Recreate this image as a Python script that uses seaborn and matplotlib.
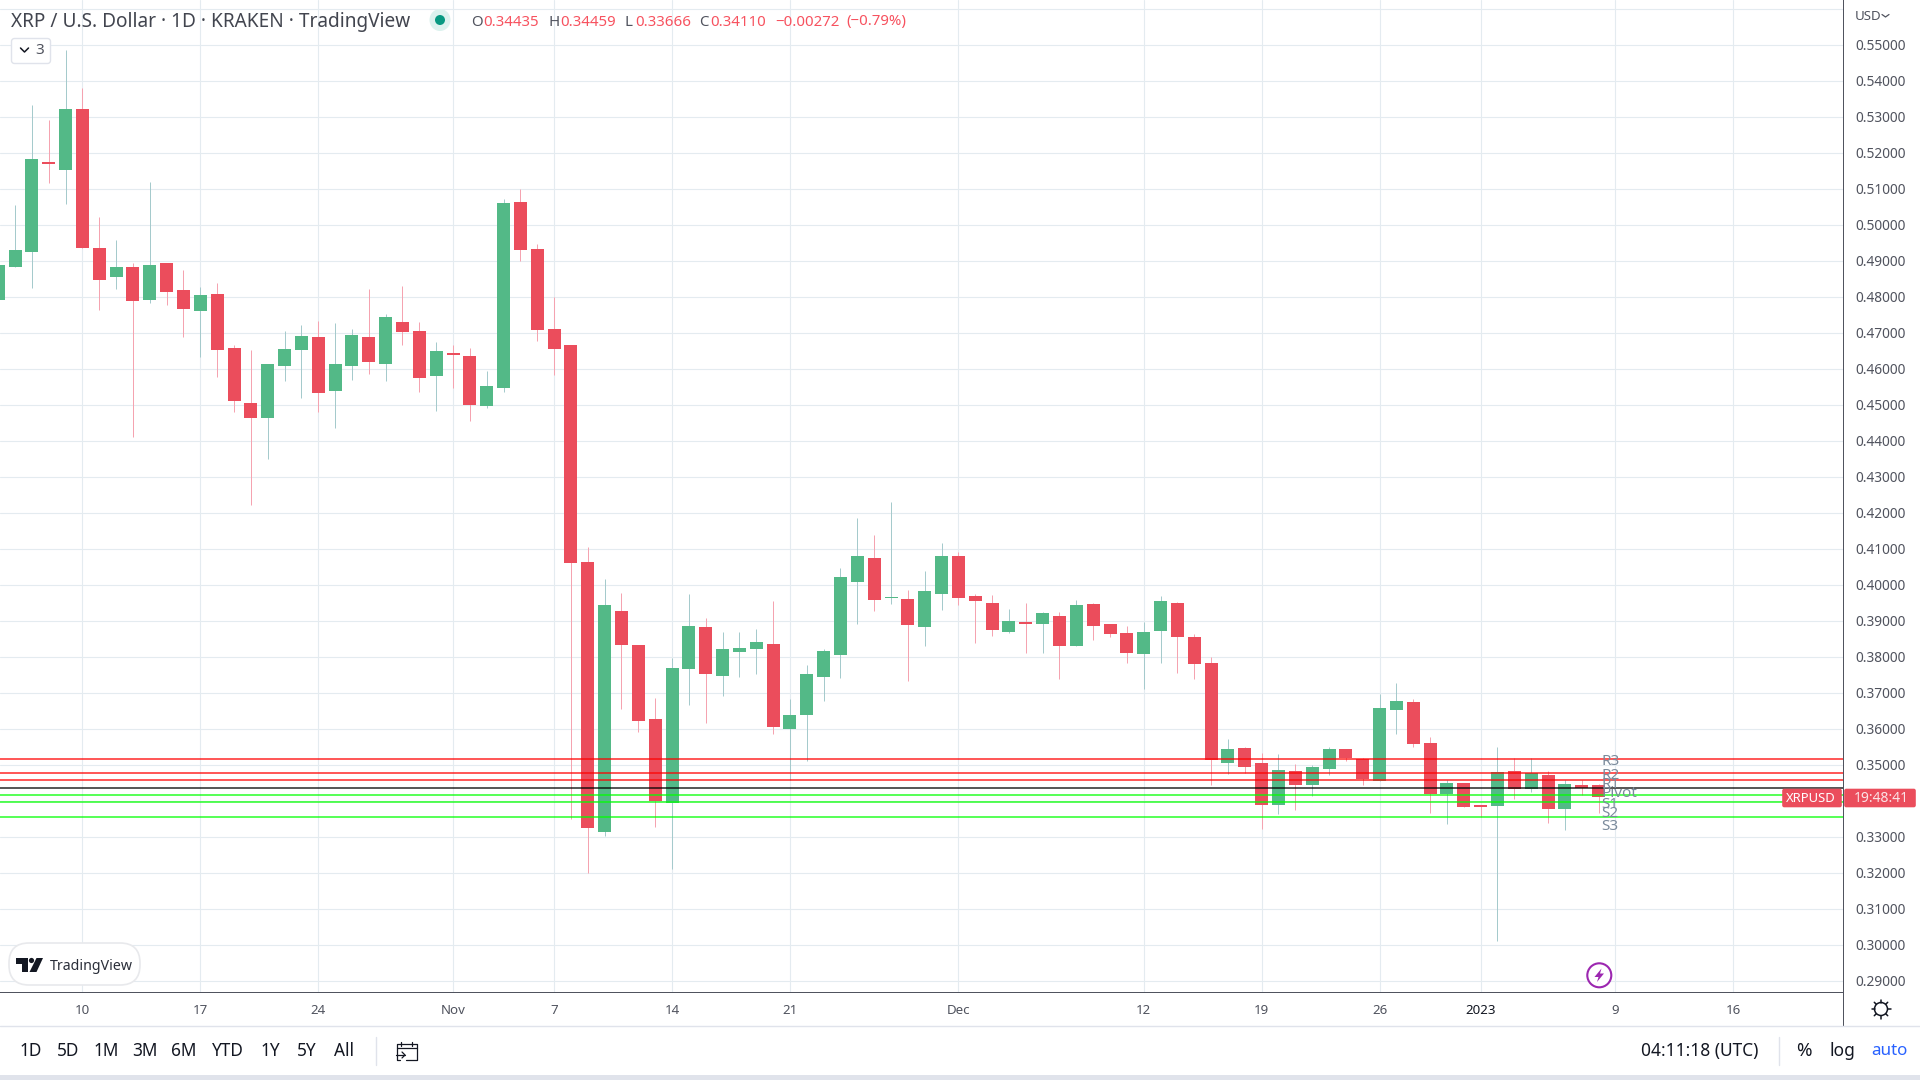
import numpy as np
import pandas as pd
import seaborn as sns
import matplotlib.pyplot as plt
from matplotlib.patches import Circle, Ellipse, FancyBboxPatch, Polygon, Rectangle

# valores, un renglon por mes (oct, nov, dic, ene)
primer_dia = "2022-10-05"
aperturas = [
    .4792, .4883, .4925, .5175, .5153, .5322, .4936, .4856, .4883, .4792, .4894, .4819, .4761, .4808, .4658, .4506, .4464, .4608, .4653, .4689, .4539, .4608, .4689, .4614, .4731, .4706, .4581,
    .4644, .4636, .4497, .4547, .5064, .4933, .4711, .4667, .4064, .3314, .3928, .3833, .3628, .3394, .3767, .3883, .3747, .3814, .3822, .3836, .3600, .3639, .3744, .3806, .4008, .4075, .3964, .3961, .3883, .3975,
    .4081, .3969, .3950, .3869, .3897, .3892, .3914, .3831, .3947, .3892, .3867, .3808, .3872, .3950, .3856, .3783, .3506, .3547, .3506, .3389, .3483, .3444, .3489, .3544, .3517, .3456, .3653, .3675, .3561, .3419, .3450,
    .3389, .3386, .3483, .3433, .3472, .3378, .3444, .34435,
]
cierres = [
    .4889, .4931, .5183, .5169, .5322, .4936, .4847, .4883, .4789, .4889, .4814, .4767, .4806, .4653, .4511, .4464, .4614, .4656, .4692, .4533, .4614, .4694, .4619, .4744, .4703, .4575, .4650,
    .4639, .4500, .4553, .5061, .4931, .4708, .4656, .4061, .3325, .3944, .3833, .3622, .3400, .3769, .3886, .3753, .3822, .3825, .3842, .3606, .3639, .3753, .3817, .4022, .4081, .3958, .3967, .3889, .3983, .4081,
    .3964, .3956, .3875, .3900, .3892, .3922, .3831, .3944, .3886, .3864, .3811, .3869, .3956, .3856, .3781, .3514, .3544, .3494, .3389, .3486, .3444, .3494, .3544, .3519, .3461, .3658, .3678, .3558, .3419, .3450, .3383,
    .3383, .3481, .3433, .3478, .3378, .3447, .3436, .34110,
]
maximos = [
    .4889, .5056, .5333, .5292, .5486, .5381, .5022, .4958, .4894, .5119, .4894, .4875, .4828, .4839, .4667, .4653, .4614, .4706, .4722, .4733, .4728, .4711, .4822, .4753, .4831, .4731, .4675,
    .4667, .4658, .4594, .5072, .5100, .4947, .4800, .4667, .4106, .4017, .3978, .3833, .3686, .3797, .3975, .3908, .3869, .3869, .3878, .3956, .3683, .3778, .3822, .4047, .4186, .4139, .4231, .3986, .4039, .4117,
    .4092, .3975, .3972, .3933, .3950, .3925, .3925, .3958, .3950, .3892, .3886, .3897, .3969, .3953, .3864, .3800, .3572, .3550, .3533, .3531, .3503, .3500, .3550, .3544, .3519, .3697, .3728, .3683, .3578, .3458, .3450,
    .3389, .3550, .3519, .3519, .3483, .3458, .3458, .34459,
]
minimos = [
    .4792, .4883, .4825, .5117, .5058, .4936, .4764, .4822, .4411, .4783, .4778, .4689, .4633, .4578, .4481, .4222, .4350, .4567, .4519, .4481, .4436, .4569, .4586, .4567, .4667, .4536, .4483,
    .4547, .4456, .4492, .4536, .4900, .4678, .4583, .3350, .3200, .3303, .3656, .3592, .3328, .3211, .3667, .3617, .3692, .3744, .3753, .3586, .3458, .3511, .3678, .3742, .3892, .3928, .3947, .3733, .3831, .3931,
    .3944, .3839, .3858, .3867, .3811, .3811, .3739, .3831, .3847, .3856, .3783, .3711, .3783, .3756, .3739, .3444, .3475, .3478, .3322, .3364, .3375, .3414, .3472, .3511, .3444, .3456, .3586, .3550, .3367, .3336, .3383,
    .3356, .3011, .3406, .3425, .3339, .3319, .3417, .33666,
]

niveles_nombres = ["R3", "R2", "R1", "Pivot", "S1", "S2", "S3"]
niveles_valores = [.3517, .3478, .3458, .3436, .3417, .3397, .3356]
niveles_colores = ["#ff0000", "#ff0000", "#ff0000", "#000000", "#00ff00", "#00ff00", "#00ff00"]
niveles_bajada = [2, 2, 3, 4, 9, 10, 9]

# 0.34 queda tapado por la etiqueta XRPUSD en el original
precios = [.29, .30, .31, .32, .33, .35, .36, .37, .38, .39, .40, .41, .42,
           .43, .44, .45, .46, .47, .48, .49, .50, .51, .52, .53, .54, .55]
sin_etiqueta = [.34, .56]
fechas_ticks = ["2022-10-10", "2022-10-17", "2022-10-24", "2022-11-01", "2022-11-07", "2022-11-14", "2022-11-21",
                "2022-12-01", "2022-12-12", "2022-12-19", "2022-12-26", "2023-01-01", "2023-01-09", "2023-01-16"]
etiquetas_ticks = ["10", "17", "24", "Nov", "7", "14", "21", "Dec", "12", "19", "26", "2023", "9", "16"]

VERDE = "#53b987"
ROJO = "#eb4d5c"
VERDE_MECHA = "#a5cacc"
ROJO_MECHA = "#f5a3b0"
GRILLA = "#e4ebf0"
EJE = "#50535e"
TEXTO = "#131722"
BORDE = "#e0e3eb"

sns.set_theme(style="white")
plt.rcParams["font.family"] = ["Noto Sans", "DejaVu Sans"]

df = pd.DataFrame({"fecha": pd.date_range(primer_dia, periods=len(aperturas)),
                   "apertura": aperturas, "cierre": cierres, "maximo": maximos, "minimo": minimos})
origen = pd.Timestamp("2022-10-10")
df["dia"] = (df["fecha"] - origen).dt.days
df["base"] = df[["apertura", "cierre"]].min(axis=1)
df["alto"] = (df["cierre"] - df["apertura"]).abs()

fig = plt.figure(figsize=(19.2, 10.8), dpi=100)
ax = fig.add_axes([0, 88 / 1080, 1843 / 1920, 992 / 1080])

subidas = df[df["cierre"] >= df["apertura"]]
bajadas = df[df["cierre"] < df["apertura"]]

ax.vlines(subidas["dia"], subidas["minimo"], subidas["maximo"], color=VERDE_MECHA, lw=0.72, zorder=1.5)
ax.vlines(bajadas["dia"], bajadas["minimo"], bajadas["maximo"], color=ROJO_MECHA, lw=0.72, zorder=1.5)
sns.barplot(data=subidas, x="dia", y="alto", bottom=subidas["base"], native_scale=True, color=VERDE,
            saturation=1, width=0.772, linewidth=0, zorder=2, ax=ax)
sns.barplot(data=bajadas, x="dia", y="alto", bottom=bajadas["base"], native_scale=True, color=ROJO,
            saturation=1, width=0.772, linewidth=0, zorder=2, ax=ax)

# lineas de pivote con sus nombres
for nombre, valor, color, bajada in zip(niveles_nombres, niveles_valores, niveles_colores, niveles_bajada):
    ax.axhline(valor, color=color, alpha=0.65, lw=1.44, zorder=3)
    ax.annotate(nombre, xy=(90.15, valor), xytext=(0, -bajada - 1), textcoords="offset pixels", ha="left", va="center",
                fontsize=11, color="#7b8b9c", zorder=4, annotation_clip=False)

dias_ticks = [(pd.Timestamp(f) - origen).days for f in fechas_ticks]
ax.set_xlim(-4.891, 104.51)
ax.set_ylim(.28694, .5625)
ax.set_xticks(dias_ticks)
ax.set_xticklabels(etiquetas_ticks)
ax.set_yticks(precios)
ax.set_yticks(sin_etiqueta, minor=True)
ax.yaxis.set_major_formatter(plt.FuncFormatter(lambda v, pos: "%.5f" % v))
ax.yaxis.tick_right()
ax.set_xlabel("")
ax.set_ylabel("")
ax.grid(True, which="both", color=GRILLA, lw=0.8)
ax.set_axisbelow(True)
ax.tick_params(axis="y", which="both", length=0, pad=8.6, labelsize=9.9, labelcolor=EJE)
ax.tick_params(axis="x", length=0, pad=9, labelsize=9.6, labelcolor=EJE)
for t in ax.get_xticklabels():
    if t.get_text() == "2023":
        t.set_fontweight("bold")
        t.set_color(TEXTO)
sns.despine(ax=ax, left=True, top=True, right=False)
for lado in ["bottom", "right"]:
    ax.spines[lado].set_color(EJE)
    ax.spines[lado].set_linewidth(0.72)

# capa de la interfaz, en pixeles de la imagen
ui = fig.add_axes([0, 0, 1, 1], zorder=5)
ui.set_xlim(0, 1920)
ui.set_ylim(1080, 0)
ui.axis("off")
ui.patch.set_alpha(0)

ui.plot([1843, 1843], [992, 1026], color=EJE, lw=0.72)
ui.plot([0, 1920], [1026, 1026], color=BORDE, lw=1)
ui.add_patch(Rectangle((0, 1075), 1920, 5, color=BORDE, lw=0))
ui.plot([375.5, 375.5], [1037, 1065], color=BORDE, lw=1)
ui.plot([1779, 1779], [1037, 1065], color=BORDE, lw=1)

# encabezado
ui.text(11, 22, "XRP / U.S. Dollar · 1D · KRAKEN · TradingView", fontsize=13.7, color="#42454f", va="center")
ui.add_patch(Ellipse((440, 20), 21, 22, color="#dcf2ee", lw=0))
ui.add_patch(Ellipse((440, 20), 10, 10, color="#089981", lw=0))
leyenda = [(471.5, "O", EJE), (483.7, "0.34435", "#f7525f"), (549, "H", EJE), (560, "0.34459", "#f7525f"),
           (624.6, "L", EJE), (635, "0.33666", "#f7525f"), (699, "C", EJE), (710, "0.34110", "#f7525f"),
           (775, "\u22120.00272", "#f7525f"), (846, "(\u22120.79%)", "#f7525f")]
for x, s, c in leyenda:
    ui.text(x, 22, s, fontsize=10.8, color=c, va="center")

# boton de indicadores
ui.add_patch(FancyBboxPatch((13, 40), 36, 22, boxstyle="round,pad=1.5,rounding_size=3", fc="white", ec=BORDE, lw=1))
ui.plot([20.5, 24.5, 28.5], [48, 52, 48], color=TEXTO, lw=1.1)
ui.text(40, 51, "3", fontsize=11, color=EJE, ha="center", va="center")

# USD
ui.text(1855, 16, "USD", fontsize=9.6, color=EJE, va="center")
ui.plot([1882, 1885.5, 1889], [14.5, 17, 14.5], color=EJE, lw=0.9)

# logo TradingView
ui.add_patch(FancyBboxPatch((19, 953), 111, 22, boxstyle="round,pad=10,rounding_size=20", fc="white", ec="#e8e9ec", lw=1.2))
ui.add_patch(Polygon([(15.5, 958), (27.5, 958), (27.5, 972), (21.5, 972), (21.5, 963.5), (15.5, 963.5)], color=TEXTO, lw=0))
ui.add_patch(Circle((31.5, 960.5), 2.6, color=TEXTO, lw=0))
ui.add_patch(Polygon([(36.5, 958), (43, 958), (36.5, 972), (29.5, 972)], color=TEXTO, lw=0))
ui.text(50, 966, "TradingView", fontsize=10.2, color="#2a2e39", va="center")

# rayo
ui.add_patch(Circle((1599.3, 975.3), 12, fc="white", ec="#9c27b0", lw=1.5))
ui.add_patch(Polygon([(1601.5, 968.5), (1594.5, 977), (1598.5, 977), (1597, 982), (1604, 973.5), (1600, 973.5)], color="#9c27b0", lw=0))

# etiquetas de precio
ui.add_patch(FancyBboxPatch((1783, 789.5), 58, 17, boxstyle="round,pad=0.8,rounding_size=2", fc=ROJO, ec="none"))
ui.add_patch(FancyBboxPatch((1845, 789.5), 70, 17, boxstyle="round,pad=0.8,rounding_size=2", fc=ROJO, ec="none"))
ui.text(1811, 798, "XRPUSD", fontsize=9.4, color="white", fontweight="bold", ha="center", va="center")
ui.text(1881, 798, "19:48:41", fontsize=10, color="#fbe3e6", ha="center", va="center")

# engranaje
ui.add_patch(Circle((1881, 1009), 6.5, fc="white", ec=TEXTO, lw=1.1))
for ang in np.arange(0, 360, 45):
    r = np.deg2rad(ang)
    ui.plot([1881 + 6.5 * np.cos(r), 1881 + 9.5 * np.cos(r)], [1009 + 6.5 * np.sin(r), 1009 + 9.5 * np.sin(r)], color=TEXTO, lw=1.1)

# barra inferior
rangos = ["1D", "5D", "1M", "3M", "6M", "YTD", "1Y", "5Y", "All"]
rangos_x = [30.6, 67.8, 106.5, 145, 184, 228, 270.6, 307, 344]
for x, s in zip(rangos_x, rangos):
    ui.text(x, 1050.5, s, fontsize=12.4, color=TEXTO, ha="center", va="center")

# calendario
ui.plot([400, 396.5, 396.5, 417, 417, 406], [1060, 1060, 1044, 1044, 1060, 1060], color=TEXTO, lw=0.9)
ui.plot([396.5, 417], [1048, 1048], color=TEXTO, lw=0.9)
ui.plot([401, 401], [1042, 1046], color=TEXTO, lw=0.9)
ui.plot([412, 412], [1042, 1046], color=TEXTO, lw=0.9)
ui.plot([396, 405], [1055, 1055], color=TEXTO, lw=0.9)
ui.plot([402, 405, 402], [1052, 1055, 1058], color=TEXTO, lw=0.9)

ui.text(1700, 1051, "04:11:18 (UTC)", fontsize=12.5, color=TEXTO, ha="center", va="center")
ui.text(1804, 1051, "%", fontsize=13.5, color=TEXTO, ha="center", va="center")
ui.text(1842, 1051, "log", fontsize=12.5, color=TEXTO, ha="center", va="center")
ui.text(1889, 1051, "auto", fontsize=12.2, color="#2962ff", ha="center", va="center")

fig.savefig("out.png", dpi=100)
